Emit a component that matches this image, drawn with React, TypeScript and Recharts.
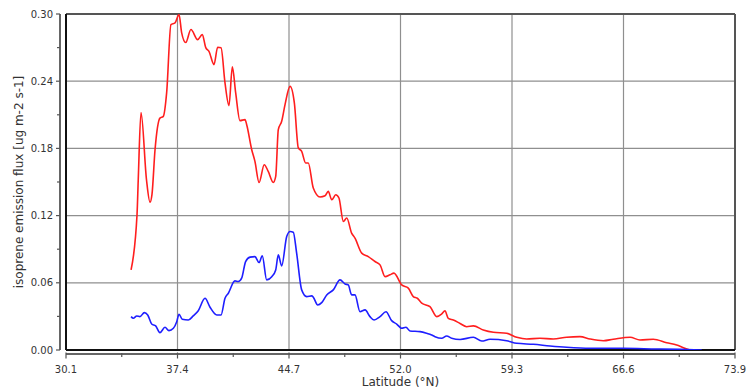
import React from 'react';
import { LineChart, Line, XAxis, YAxis, ReferenceLine, Label } from 'recharts';

// red curve (upper) - latitude and flux
const redLat = [
  34.36, 34.75, 34.83, 35.01, 35.37, 35.6, 35.73, 35.93, 36.25, 36.47, 36.69, 36.97, 37.24, 37.5,
  37.67, 37.94, 38.28, 38.72, 39.02, 39.25, 39.46, 39.79, 40.03, 40.25, 40.51, 40.77, 40.99, 41.21,
  41.49, 41.82, 41.93, 42.26, 42.47, 42.74, 43.08, 43.34, 43.67, 43.83, 44.0, 44.22, 44.44, 44.77,
  45.05, 45.31, 45.53, 45.79, 45.96, 46.29, 46.73, 47.06, 47.27, 47.5, 47.76, 47.97, 48.26, 48.48,
  48.8, 49.02, 49.46, 49.89, 50.33, 50.66, 50.99, 51.31, 51.57, 52.08, 52.51, 52.84, 53.1, 53.39,
  53.93, 54.37, 54.7, 54.91, 55.13, 55.46, 55.9, 56.33, 56.77, 57.42, 58.08, 58.95, 59.61, 60.26,
  61.13, 62.0, 62.88, 63.75, 64.41, 65.28, 65.93, 67.03, 67.68, 68.55, 69.43, 70.08, 70.52, 70.95
];
const redFlux = [
  0.0715, 0.1207, 0.152, 0.212, 0.152, 0.132, 0.139, 0.179, 0.207, 0.2086, 0.2298, 0.2906, 0.2921, 0.2995,
  0.2834, 0.2745, 0.2861, 0.2771, 0.2816, 0.27, 0.2667, 0.2548, 0.2703, 0.2698, 0.2385, 0.2182, 0.2528, 0.2295,
  0.2048, 0.2057, 0.2012, 0.1788, 0.1684, 0.1496, 0.1654, 0.1594, 0.1496, 0.155, 0.1967, 0.2042, 0.2191, 0.2354,
  0.2206, 0.1804, 0.1773, 0.167, 0.167, 0.1446, 0.1366, 0.1377, 0.1416, 0.1341, 0.1386, 0.1357, 0.1147, 0.1178,
  0.1044, 0.0999, 0.0865, 0.0834, 0.079, 0.076, 0.0655, 0.0671, 0.0686, 0.0581, 0.0552, 0.0477, 0.0462, 0.0418,
  0.0387, 0.0298, 0.0322, 0.0349, 0.0283, 0.0268, 0.0237, 0.0208, 0.0215, 0.0179, 0.0158, 0.0149, 0.0114, 0.0098,
  0.0105, 0.0098, 0.0114, 0.0119, 0.0098, 0.0083, 0.0096, 0.0114, 0.0089, 0.0096, 0.0065, 0.0045, 0.0021, 0.0
];

// blue curve (lower)
const blueLat = [
  34.36, 34.51, 34.73, 34.94, 35.23, 35.45, 35.71, 35.97, 36.25, 36.58, 36.84, 37.13, 37.35, 37.5,
  37.71, 38.11, 38.43, 38.76, 39.2, 39.53, 39.97, 40.25, 40.51, 40.73, 41.16, 41.38, 41.6, 41.86,
  42.15, 42.47, 42.74, 42.95, 43.24, 43.57, 43.83, 44.0, 44.22, 44.55, 44.77, 44.98, 45.2, 45.53,
  45.86, 46.19, 46.29, 46.58, 46.84, 47.17, 47.6, 48.04, 48.37, 48.58, 48.8, 49.02, 49.35, 49.68,
  50.0, 50.27, 50.66, 51.05, 51.42, 51.75, 52.08, 52.36, 52.62, 53.28, 53.72, 54.04, 54.26, 54.7,
  55.02, 55.35, 55.9, 56.77, 57.32, 57.86, 58.95, 59.61, 60.69, 61.79, 62.88, 64.41, 66.59, 68.77,
  70.3, 71.72
];
const blueFlux = [
  0.0298, 0.0283, 0.0304, 0.0298, 0.0334, 0.0313, 0.0232, 0.0215, 0.0155, 0.0203, 0.0173, 0.0194, 0.0253, 0.0319,
  0.0275, 0.0268, 0.0304, 0.0351, 0.0462, 0.0382, 0.0313, 0.0313, 0.0462, 0.0507, 0.0617, 0.0611, 0.0641, 0.079,
  0.0829, 0.0834, 0.0781, 0.0841, 0.0626, 0.0655, 0.0715, 0.0849, 0.0751, 0.1013, 0.1058, 0.1052, 0.0865, 0.0537,
  0.0477, 0.0483, 0.0471, 0.0402, 0.0423, 0.0492, 0.0537, 0.0626, 0.059, 0.0581, 0.0492, 0.0492, 0.0342, 0.0358,
  0.0298, 0.0268, 0.0298, 0.0342, 0.0262, 0.0232, 0.0194, 0.0203, 0.017, 0.0164, 0.0149, 0.0134, 0.0119, 0.0105,
  0.0125, 0.0105, 0.0094, 0.0114, 0.008, 0.0096, 0.0083, 0.006, 0.0051, 0.0036, 0.0024, 0.0015, 0.0015, 0.0009,
  0.0006, 0.0
];

// axis ticks (every other one is a labelled major tick)
const xTicks = [30.1, 33.75, 37.4, 41.05, 44.7, 48.35, 52.0, 55.65, 59.3, 62.95, 66.6, 70.25, 73.9];
const xTickLabels = ['30.1', '', '37.4', '', '44.7', '', '52.0', '', '59.3', '', '66.6', '', '73.9'];
const yTicks = [0, 0.03, 0.06, 0.09, 0.12, 0.15, 0.18, 0.21, 0.24, 0.27, 0.3];
const yTickLabels = ['0.00', '', '0.06', '', '0.12', '', '0.18', '', '0.24', '', '0.30'];
const xGrid = [37.4, 44.7, 52.0, 59.3, 66.6];
const yGrid = [0.06, 0.12, 0.18, 0.24];

const redData = redLat.map((lat, i) => ({ lat, v: redFlux[i] }));
const blueData = blueLat.map((lat, i) => ({ lat, v: blueFlux[i] }));

const FONT = '"DejaVu Sans", sans-serif';
const GRID = '#8f8f8f';

const XTick = (props: any) => {
  const { x, y, index } = props;
  const label = xTickLabels[index];
  const major = label !== '';
  return (
    <g>
      <line x1={x} x2={x} y1={y + (major ? 2.5 : 3)} y2={y + (major ? 8.5 : 7)} stroke="#555" strokeWidth={1.2} />
      {major && (
        <text x={x} y={y + 23} textAnchor="middle" fontFamily={FONT} fontSize={10} fill="#333">
          {label}
        </text>
      )}
    </g>
  );
};

const YTick = (props: any) => {
  const { x, y, index } = props;
  const label = yTickLabels[index];
  const major = label !== '';
  return (
    <g>
      <line x1={x - 6} x2={x - (major ? 10 : 9)} y1={y} y2={y} stroke="#555" strokeWidth={1.2} />
      {major && (
        <text x={x - 13} y={y + 3.5} textAnchor="end" fontFamily={FONT} fontSize={10} fill="#333">
          {label}
        </text>
      )}
    </g>
  );
};

export default function App() {
  return (
    <div style={{ position: 'absolute', left: 0, top: 0, background: '#fff' }}>
      <LineChart width={748} height={389} margin={{ top: 14, right: 13, bottom: 0, left: 0 }}>
        <XAxis
          type="number"
          dataKey="lat"
          domain={[30.1, 73.9]}
          ticks={xTicks}
          interval={0}
          allowDataOverflow
          height={39}
          tickSize={0}
          tickMargin={0}
          tick={<XTick />}
          axisLine={{ stroke: '#666', strokeWidth: 2, transform: 'translate(0,4)' }}
        >
          <Label
            content={(p: any) => {
              const vb = p.viewBox;
              return (
                <text x={vb.x + vb.width / 2} y={vb.y + 36} textAnchor="middle" fontFamily={FONT} fontSize={12} fill="#333">
                  Latitude (°N)
                </text>
              );
            }}
          />
        </XAxis>
        <YAxis
          type="number"
          domain={[0, 0.3]}
          ticks={yTicks}
          interval={0}
          allowDataOverflow
          width={66}
          tickSize={0}
          tickMargin={0}
          tick={<YTick />}
          axisLine={{ stroke: '#666', strokeWidth: 2, transform: 'translate(-6,0)' }}
        >
          <Label
            content={(p: any) => {
              const vb = p.viewBox;
              const cx = vb.x + 19;
              const cy = vb.y + vb.height / 2;
              return (
                <text x={cx} y={cy} transform={`rotate(-90 ${cx} ${cy})`} textAnchor="middle" dominantBaseline="middle" fontFamily={FONT} fontSize={12} fill="#333">
                  isoprene emission flux [ug m-2 s-1]
                </text>
              );
            }}
          />
        </YAxis>
        {xGrid.map(v => (
          <ReferenceLine key={`gx${v}`} x={v} stroke={GRID} strokeWidth={1.2} />
        ))}
        {yGrid.map(v => (
          <ReferenceLine key={`gy${v}`} y={v} stroke={GRID} strokeWidth={1.2} />
        ))}
        <ReferenceLine y={0.3} stroke="#555" strokeWidth={2} />
        <ReferenceLine x={73.9} stroke="#555" strokeWidth={2} />
        <ReferenceLine y={0} stroke="#111" strokeWidth={2} />
        <ReferenceLine x={30.1} stroke="#111" strokeWidth={2} />
        <Line
          data={redData}
          dataKey="v"
          type="monotone"
          stroke="#ff1e1e"
          strokeWidth={1.6}
          dot={false}
          isAnimationActive={false}
        />
        <Line
          data={blueData}
          dataKey="v"
          type="monotone"
          stroke="#1e1eff"
          strokeWidth={1.6}
          dot={false}
          isAnimationActive={false}
        />
      </LineChart>
    </div>
  );
}
